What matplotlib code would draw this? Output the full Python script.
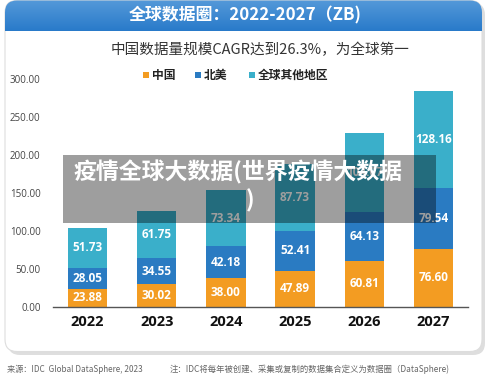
import numpy as np
import matplotlib
matplotlib.use("Agg")
import matplotlib.pyplot as plt
from matplotlib.patches import FancyBboxPatch, Rectangle

plt.rcParams['font.family'] = ['Noto Sans CJK SC', 'DejaVu Sans']

years = ['2022', '2023', '2024', '2025', '2026', '2027']
china = [23.88, 30.02, 38.00, 47.89, 60.81, 76.60]
north_america = [28.05, 34.55, 42.18, 52.41, 64.13, 79.54]
rest_world = [51.73, 61.75, 73.34, 87.73, 104.07, 128.16]
series_names = ['中国', '北美', '全球其他地区']
yticks = [0, 50, 100, 150, 200, 250, 300]

c_orange = '#F39C22'
c_blue = '#2A7BC2'
c_teal = '#3AAFCA'
num_font = ['Open Sans', 'Noto Sans CJK SC']

W, H = 500, 380
fig = plt.figure(figsize=(5, 3.8), dpi=100)

# background layer in pixel coords
bg = fig.add_axes([0, 0, 1, 1], zorder=0)
bg.axis('off')

shadow = FancyBboxPatch((8, 3), 477, 352, boxstyle='round,pad=0,rounding_size=12',
                        fc='#c8c8c8', ec='none', alpha=0.6, zorder=1)
bg.add_patch(shadow)
card = FancyBboxPatch((5, 0.5), 477, 351, boxstyle='round,pad=0,rounding_size=12',
                      fc='white', ec='#dddddd', lw=0.8, zorder=1.5)
bg.add_patch(card)

grad = np.linspace(0, 1, 64).reshape(-1, 1)
c1 = np.array([0.33, 0.60, 0.85])
c2 = np.array([0.16, 0.48, 0.79])
img = (c1[None, None, :] * (1 - grad[:, :, None]) + c2[None, None, :] * grad[:, :, None])
img = np.repeat(img, 4, axis=1)
im = bg.imshow(img, extent=(5, 482, 31, 0), aspect='auto', interpolation='bilinear', zorder=2)
im.set_clip_path(card)
bg.set_xlim(0, W)
bg.set_ylim(H, 0)

bg.text(245, 15, '全球数据圈：2022-2027（ZB)', color='white', fontsize=12.2,
        fontweight='bold', ha='center', va='center', zorder=3)
bg.text(260, 50, '中国数据量规模CAGR达到26.3%，为全球第一', color='#333333',
        fontsize=10.5, ha='center', va='center', zorder=3)

leg_x = [143, 195, 249]
for x, name, col in zip(leg_x, series_names, [c_orange, c_blue, c_teal]):
    bg.add_patch(Rectangle((x, 72), 6, 6, fc=col, ec='none', zorder=3))
    bg.text(x + 9, 75.5, name, fontsize=8.5, fontweight='bold', color='#222222',
            ha='left', va='center', zorder=3)

bg.text(7, 369, '来源：IDC  Global DataSphere, 2023', fontsize=5.9, color='#666666',
        ha='left', va='center')
bg.text(170, 369, '注：IDC将每年被创建、采集或复制的数据集合定义为数据圈（DataSphere)',
        fontsize=6.0, color='#666666', ha='left', va='center')

# chart
ax = fig.add_axes([53 / W, 1 - 307 / H, (468 - 53) / W, (307 - 79) / H], zorder=1)
ax.patch.set_alpha(0)
x = np.arange(len(years))
bw = 0.57
bottoms = np.zeros(len(years))
for vals, col in zip([china, north_america, rest_world], [c_orange, c_blue, c_teal]):
    vals = np.array(vals)
    ax.bar(x, vals, bw, bottom=bottoms, color=col, edgecolor='none')
    for xi, b, v in zip(x, bottoms, vals):
        ax.text(xi, b + v / 2, f'{v:.2f}', ha='center', va='center', color='white',
                fontsize=8.5, fontweight='bold', family=num_font)
    bottoms = bottoms + vals

ax.set_xlim(-0.5, 5.5)
ax.set_ylim(0, 300)
ax.set_yticks(yticks)
ax.set_yticklabels([f'{v:.2f}' for v in yticks], fontsize=7, color='#444444', family=num_font)
ax.set_xticks(x)
ax.set_xticklabels(years, fontsize=10.5, fontweight='bold', color='#111111', family=num_font)
ax.tick_params(axis='y', length=0, pad=9)
ax.tick_params(axis='x', length=0, pad=6)
for s in ['top', 'right', 'left']:
    ax.spines[s].set_visible(False)
ax.spines['bottom'].set_color('#555555')
ax.spines['bottom'].set_linewidth(1)

# watermark overlay
ov = fig.add_axes([0, 0, 1, 1], zorder=5)
ov.set_xlim(0, W)
ov.set_ylim(H, 0)
ov.axis('off')
ov.patch.set_alpha(0)
ov.add_patch(Rectangle((63, 155), 373, 68, fc='black', ec='none', alpha=0.38))
ov.text(73, 172, '疫情全球大数据(世界疫情大数据', color='white', fontsize=16.5,
        fontweight='bold', ha='left', va='center')
ov.text(250, 201, ')', color='white', fontsize=16.5, fontweight='bold', ha='center', va='center')

fig.savefig('out.png', dpi=100)
